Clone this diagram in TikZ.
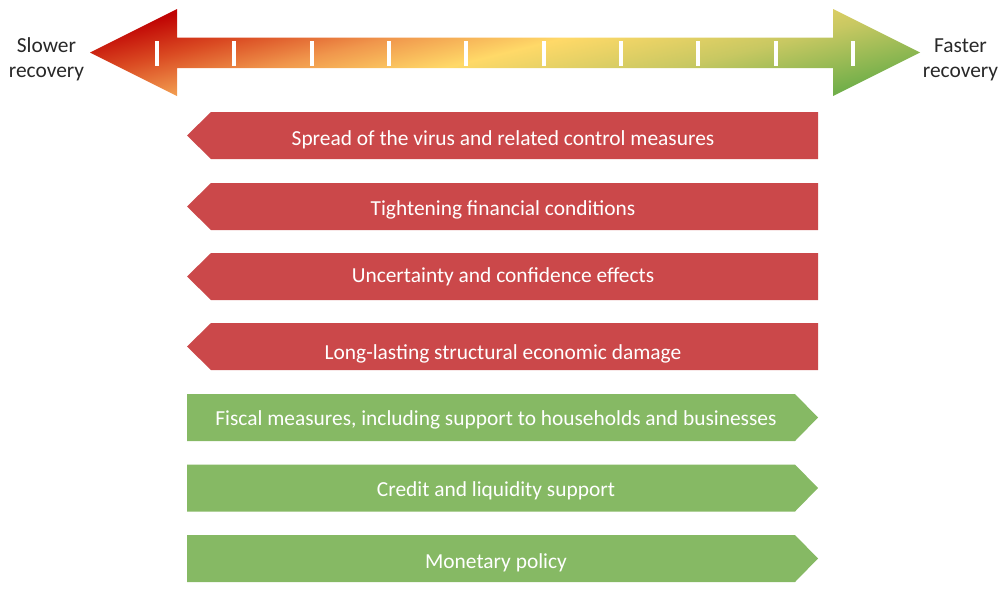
\documentclass[tikz,border=0pt]{standalone}
\usepackage{fontspec}
\setmainfont{Carlito}
\definecolor{barred}{RGB}{203,72,74}
\definecolor{bargreen}{RGB}{134,185,100}
\definecolor{labelgray}{RGB}{40,40,40}
\definecolor{g0}{RGB}{192,4,4}
\definecolor{g1}{RGB}{218,74,34}
\definecolor{g2}{RGB}{240,150,76}
\definecolor{g3}{RGB}{255,217,104}
\definecolor{g4}{RGB}{200,200,98}
\definecolor{g5}{RGB}{114,175,74}
\pgfdeclarehorizontalshading{recov}{100bp}{color(0bp)=(g0); color(25bp)=(g0); color(33bp)=(g1); color(41bp)=(g2); color(50bp)=(g3); color(62bp)=(g4); color(75bp)=(g5); color(100bp)=(g5)}
\begin{document}
\begin{tikzpicture}[x=1pt,y=-1pt,
  every node/.style={font=\fontsize{21.4}{25}\selectfont},
  redbar/.style={fill=barred},
  greenbar/.style={fill=bargreen},
  lbl/.style={text=white, anchor=base, inner sep=0pt},
  side/.style={text=labelgray, align=center, anchor=base, inner sep=0pt},
  tickmark/.style={draw=white, line width=3.8pt},
  bigarrow/.style={shading=recov, shading angle=-76}]
\useasboundingbox (0,0) rectangle (1000,595);
% top gradient arrow
\path[bigarrow] (90,52.5) -- (177,9) -- (177,37.5) -- (833,37.5) -- (833,9) -- (920,52.5)
  -- (833,96) -- (833,68) -- (177,68) -- (177,96) -- cycle;
\foreach \i in {0,...,9} {
  \draw[tickmark] ({157+77.33*\i},41) -- ({157+77.33*\i},66);
}
\node[side] (slow) at (46.5,77) {Slower\\recovery};
\node[side] (fast) at (960.5,77) {Faster\\recovery};
% red bars (pointing left)
\foreach \t in {112,183,253,323} {
  \fill[redbar] (187,\t+23.5) -- (211,\t) -- (818,\t) -- (818,\t+47) -- (211,\t+47) -- cycle;
}
% green bars (pointing right)
\foreach \t in {394,464.5,535} {
  \fill[greenbar] (187,\t) -- (795,\t) -- (818,\t+23.5) -- (795,\t+47) -- (187,\t+47) -- cycle;
}
\node[lbl] (b1) at (503,145) {Spread of the virus and related control measures};
\node[lbl] (b2) at (503,215) {Tightening financial conditions};
\node[lbl] (b3) at (503,282) {Uncertainty and confidence effects};
\node[lbl] (b4) at (503,359) {Long-lasting structural economic damage};
\node[lbl] (b5) at (496,425) {Fiscal measures, including support to households and businesses};
\node[lbl] (b6) at (496,496) {Credit and liquidity support};
\node[lbl] (b7) at (496,568) {Monetary policy};
\end{tikzpicture}
\end{document}
